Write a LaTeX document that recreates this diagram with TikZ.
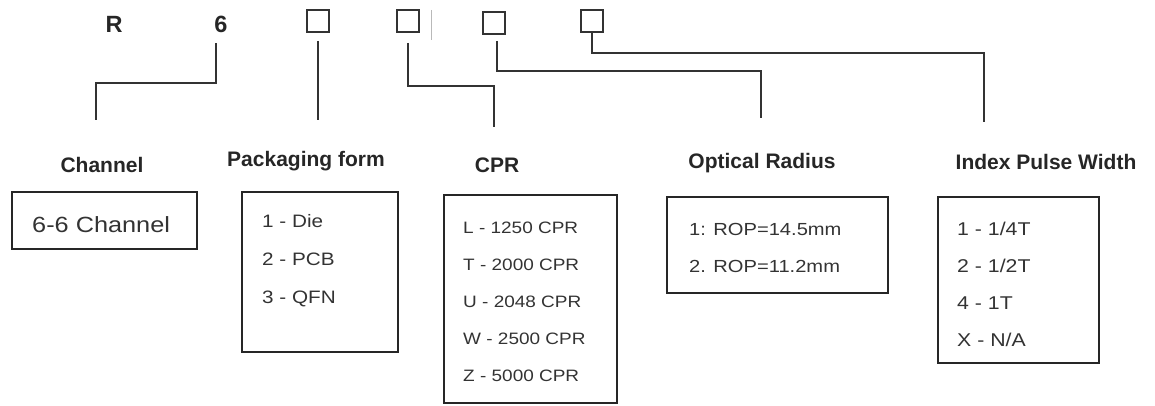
\documentclass[tikz,border=0pt]{standalone}
\usepackage{fontspec}
\setmainfont{Liberation Sans}
\newfontfamily\itemfont{Liberation Sans}[FakeStretch=1.15]
\usetikzlibrary{calc}
\definecolor{linegray}{HTML}{333333}
\tikzset{
code/.style={font=\bfseries\fontsize{23.5}{27}\selectfont,anchor=base,inner sep=0pt,text=black!85},
slot/.style={draw=linegray,line width=1.8pt,minimum width=22pt,minimum height=22pt,inner sep=0pt},
title/.style={font=\bfseries\fontsize{21}{25}\selectfont,anchor=base,inner sep=0pt,text=black!85},
optbox/.style={draw=black!85,line width=2.4pt,inner sep=0pt},
item/.style={anchor=base west,inner sep=0pt,text=black!80},
link/.style={draw=linegray,line width=2pt}
}

\begin{document}
\begin{tikzpicture}[x=1pt,y=-1pt]
\useasboundingbox (0,0) rectangle (1155,406);
\node[code](r) at (114,33){R};
\node[code](six) at (221,33){6};
\node[slot](pkgSlot) at (318,21){};
\node[slot](cprSlot) at (408,21){};
\node[slot](radSlot) at (494,23){};
\node[slot](pulseSlot) at (592,21){};
\draw[gray!55,line width=1pt](431,10)--(431,40);
\node[title](chTitle) at (102,172){Channel};
\node[title](pkgTitle) at (306,167){Packaging form};
\node[title](cprTitle) at (497,172){CPR};
\node[title](radTitle) at (762,168){Optical Radius};
\node[title](pulseTitle) at (1046,170){Index Pulse Width};
\coordinate(chEnd) at (96,120);
\coordinate(pkgEnd) at (318,120);
\coordinate(cprEnd) at (494,127);
\coordinate(radEnd) at (761,118);
\coordinate(pulseEnd) at (984,122);
\draw[link]([xshift=-5pt,yshift=-10pt]six.south)--++(0,40)-|(chEnd);
\draw[link]([yshift=-8pt]pkgSlot.south)--(pkgEnd);
\draw[link]([yshift=-10pt]cprSlot.south)--++(0,43)-|(cprEnd);
\draw[link]([xshift=3pt,yshift=-6pt]radSlot.south)--++(0,30)-|(radEnd);
\draw[link](pulseSlot.south)--++(0,20)-|(pulseEnd);
\node[optbox,minimum width=185pt,minimum height=57pt](chBox) at (104.5,220.5){};
\node[optbox,minimum width=156pt,minimum height=160pt](pkgBox) at (320,272){};
\node[optbox,minimum width=173pt,minimum height=208pt](cprBox) at (530.5,299){};
\node[optbox,minimum width=221pt,minimum height=96pt](radBox) at (777.5,245){};
\node[optbox,minimum width=161pt,minimum height=166pt](pulseBox) at (1018.5,280){};
\node[item,font=\itemfont\fontsize{22}{26}\selectfont](chItem) at (32,232){6-6 Channel};
\foreach \t [count=\i from 0] in {{1 - Die},{2 - PCB},{3 - QFN}}
  \node[item,font=\itemfont\fontsize{18}{22}\selectfont](pkg\i) at (262,227+38*\i){\t};
\foreach \t [count=\i from 0] in {{L - 1250 CPR},{T - 2000 CPR},{U - 2048 CPR},{W - 2500 CPR},{Z - 5000 CPR}}
  \node[item,font=\itemfont\fontsize{16.5}{20}\selectfont](cpr\i) at (463,233+37*\i){\t};
\foreach \t [count=\i from 0] in {{1: ROP=14.5mm},{2. ROP=11.2mm}}
  \node[item,font=\itemfont\fontsize{17.5}{21}\selectfont](rad\i) at (689,235+37*\i){\t};
\foreach \t [count=\i from 0] in {{1 - 1/4T},{2 - 1/2T},{4 - 1T},{X - N/A}}
  \node[item,font=\itemfont\fontsize{18.5}{22}\selectfont](pulse\i) at (957,235+37*\i){\t};
\end{tikzpicture}
\end{document}
